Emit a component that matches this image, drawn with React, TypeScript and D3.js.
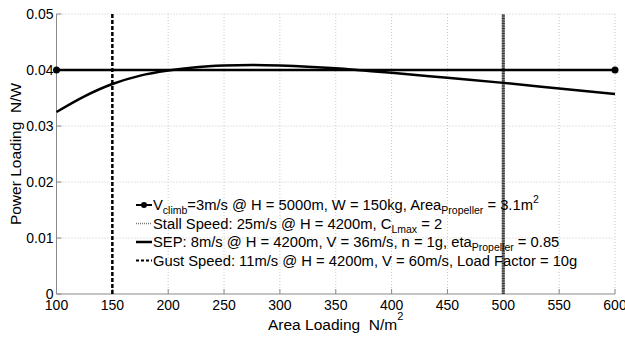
import * as d3 from "d3"

// area loading (N/m^2) samples for the SEP curve
const sepX = [100, 125, 150, 175, 200, 225, 250, 275, 300, 325, 350, 375, 400, 450, 500, 550, 600]
// power loading (N/W) for SEP curve
const sepY = [0.0325, 0.0353, 0.0375, 0.0390, 0.0399, 0.0405, 0.0408, 0.0409, 0.0408, 0.0406, 0.0403, 0.0399, 0.0395, 0.0386, 0.0377, 0.0367, 0.0357]

const climbX = [100, 600]
const climbY = [0.04, 0.04]

const stallX = 500
const gustX = 150

const xTicks = [100, 150, 200, 250, 300, 350, 400, 450, 500, 550, 600]
const yTicks = [0, 0.01, 0.02, 0.03, 0.04, 0.05]
const yTickLabels = ["0", "0.01", "0.02", "0.03", "0.04", "0.05"]

const W = 625
const H = 337
const margin = { top: 14, right: 10, bottom: 43, left: 56.5 }
const FONT = "'Liberation Sans', Arial, Helvetica, sans-serif"

export default function App() {
  const x = d3.scaleLinear().domain([100, 600]).range([margin.left, W - margin.right])
  const y = d3.scaleLinear().domain([0, 0.05]).range([H - margin.bottom, margin.top])

  const line = d3.line<number>()
    .x((_, i) => x(sepX[i]))
    .y(d => y(d))
    .curve(d3.curveMonotoneX)

  const [y0, y1] = y.range()
  const [x0, x1] = x.range()

  const legendX = 136
  const legendRows = [205, 223.5, 242, 260.5]

  return (
    <svg width={W} height={H} style={{ position: "fixed", left: 0, top: 0, background: "#fff" }} fontFamily={FONT}>
      {/* grid */}
      <g stroke="#c8c8c8" strokeWidth={1} strokeDasharray="1 2">
        {xTicks.slice(1).map(t => <line key={"gx" + t} x1={x(t)} x2={x(t)} y1={y0} y2={y1} />)}
        {yTicks.slice(1).map(t => <line key={"gy" + t} x1={x0} x2={x1} y1={y(t)} y2={y(t)} />)}
      </g>

      {/* axes */}
      <g stroke="#8a8a8a" strokeWidth={1}>
        <line x1={x0} x2={x0} y1={y0} y2={y1} />
        <line x1={x0} x2={x1} y1={y0} y2={y0} />
        {xTicks.map(t => <line key={"tx" + t} x1={x(t)} x2={x(t)} y1={y0} y2={y0 - 5} />)}
        {yTicks.map(t => <line key={"ty" + t} x1={x0} x2={x0 + 5} y1={y(t)} y2={y(t)} />)}
      </g>

      {/* tick labels */}
      <g fontSize={14} fill="#000">
        {xTicks.map(t => (
          <text key={"lx" + t} x={x(t)} y={y0 + 16} textAnchor="middle">{t}</text>
        ))}
        {yTicks.map((t, i) => (
          <text key={"ly" + t} x={x0 - 3} y={y(t) + 5} textAnchor="end">{yTickLabels[i]}</text>
        ))}
      </g>

      {/* axis labels */}
      <text x={268} y={330} fontSize={15.5}>
        Area Loading{"\u00a0\u00a0"}N/m<tspan dy={-10} fontSize={11}>2</tspan>
      </text>
      <text transform={`translate(21,${(y0 + y1) / 2}) rotate(-90)`} fontSize={15.5} textAnchor="middle">
        Power Loading{"\u00a0\u00a0"}N/W
      </text>

      {/* stall speed */}
      <line x1={x(stallX)} x2={x(stallX)} y1={y0} y2={y1} stroke="#7a7a7a" strokeWidth={3} />
      <line x1={x(stallX)} x2={x(stallX)} y1={y0} y2={y1} stroke="#333" strokeWidth={3} strokeDasharray="1 1.5" />

      {/* gust */}
      <line x1={x(gustX)} x2={x(gustX)} y1={y0} y2={y1} stroke="#000" strokeWidth={2.5} strokeDasharray="4 2" />

      {/* climb */}
      <line x1={x(climbX[0])} x2={x(climbX[1])} y1={y(climbY[0])} y2={y(climbY[1])} stroke="#000" strokeWidth={2.5} />
      {climbX.map((cx, i) => <circle key={"m" + i} cx={x(cx)} cy={y(climbY[i])} r={3.5} fill="#000" />)}

      {/* SEP */}
      <path d={line(sepY) || ""} fill="none" stroke="#000" strokeWidth={2.5} />

      {/* legend */}
      <g fontSize={14.75}>
        <line x1={legendX} x2={legendX + 16} y1={legendRows[0]} y2={legendRows[0]} stroke="#000" strokeWidth={2} />
        <circle cx={legendX + 8} cy={legendRows[0]} r={3} fill="#000" />
        <text x={legendX + 17} y={legendRows[0] + 5}>
          V<tspan dy={4} fontSize={10.5}>climb</tspan><tspan dy={-4}>=3m/s @ H = 5000m, W = 150kg, Area</tspan>
          <tspan dy={4} fontSize={10.5}>Propeller</tspan><tspan dy={-4}> = 3.1m</tspan><tspan dy={-7} fontSize={10.5}>2</tspan>
        </text>

        <line x1={legendX} x2={legendX + 16} y1={legendRows[1]} y2={legendRows[1]} stroke="#777" strokeWidth={1.5} strokeDasharray="1 1" />
        <text x={legendX + 17} y={legendRows[1] + 5}>
          Stall Speed: 25m/s @ H = 4200m, C<tspan dy={4} fontSize={10.5}>Lmax</tspan><tspan dy={-4}> = 2</tspan>
        </text>

        <line x1={legendX} x2={legendX + 16} y1={legendRows[2]} y2={legendRows[2]} stroke="#000" strokeWidth={2.5} />
        <text x={legendX + 17} y={legendRows[2] + 5}>
          SEP: 8m/s @ H = 4200m, V = 36m/s, n = 1g, eta<tspan dy={4} fontSize={10.5}>Propeller</tspan><tspan dy={-4}> = 0.85</tspan>
        </text>

        <line x1={legendX} x2={legendX + 16} y1={legendRows[3]} y2={legendRows[3]} stroke="#000" strokeWidth={2} strokeDasharray="3 2" />
        <text x={legendX + 17} y={legendRows[3] + 5}>
          Gust Speed: 11m/s @ H = 4200m, V = 60m/s, Load Factor = 10g
        </text>
      </g>
    </svg>
  )
}
